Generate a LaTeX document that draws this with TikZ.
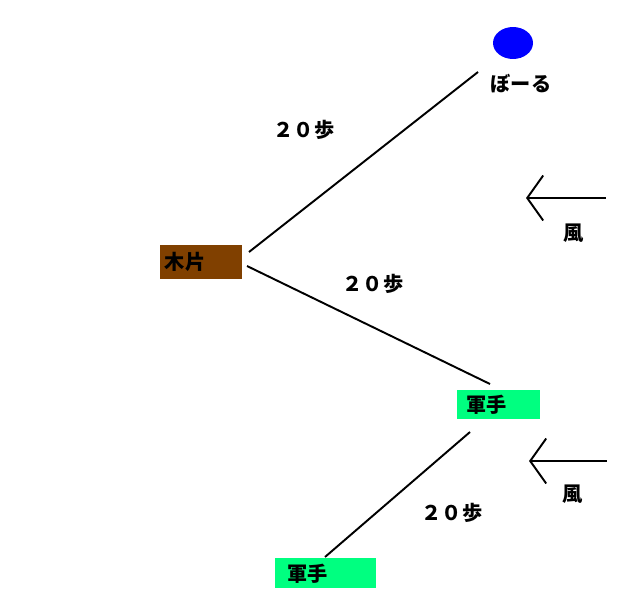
\documentclass[tikz,border=0pt]{standalone}
\usepackage{fontspec}
\usepackage{xcolor}
\usepackage{tikz}
\usetikzlibrary{arrows.meta}
\usetikzlibrary{shapes.geometric}
\newfontfamily\jp{Noto Sans CJK JP}
\definecolor{mokuhen}{RGB}{128,64,0}
\definecolor{gunte}{RGB}{0,255,128}
\tikzset{>=latex}
\tikzstyle{lbl} = [draw = none, inner sep = 0, font = \jp\bfseries\fontsize{11.5}{13}\selectfont]
\tikzstyle{item} = [lbl, rectangle, align = left, anchor = north west]
\tikzstyle{wind} = [{Straight Barb[length = 0.32cm, width = 0.9cm]}-, line width = 1.1pt]

\begin{document}
\begin{tikzpicture}[x = 0.02cm, y = -0.02cm]
\useasboundingbox (0, 0) rectangle (628, 612);
\node [ellipse, fill = blue, minimum width = 0.8cm, minimum height = 0.64cm, inner sep = 0] (B) at (513, 43) {};
\node [lbl] (Bl) at (521, 84) {ぼーる};
\node [item, fill = mokuhen, minimum height = 0.68cm, text width = 1.46cm, inner xsep = 0.09cm] (M) at (160, 245) {木片};
\node [item, fill = gunte, minimum height = 0.58cm, text width = 1.3cm, inner xsep = 0.18cm] (G1) at (457, 390) {軍手};
\node [item, fill = gunte, minimum height = 0.6cm, text width = 1.54cm, inner xsep = 0.24cm] (G2) at (275, 558) {軍手};
\coordinate (m1) at (249, 252);
\coordinate (b1) at (478, 72);
\coordinate (m2) at (247, 266);
\coordinate (g1) at (490, 384);
\coordinate (g2) at (470, 432);
\coordinate (g3) at (325, 557);
\draw [line width = 1.1pt] (m1) to (b1);
\draw [line width = 1.1pt] (m2) to (g1);
\draw [line width = 1.1pt] (g2) to (g3);
\node [lbl] (D1) at (304, 130) {２０歩};
\node [lbl] (D2) at (373, 284) {２０歩};
\node [lbl] (D3) at (452, 513) {２０歩};
% kaze
\coordinate (w1) at (606, 198);
\coordinate (w1t) at (526, 198);
\coordinate (w2) at (607, 461);
\coordinate (w2t) at (529, 461);
\draw [wind] (w1t) to (w1);
\draw [wind] (w2t) to (w2);
\node [lbl] (K1) at (574, 233) {風};
\node [lbl] (K2) at (573, 494) {風};
\end{tikzpicture}
\end{document}
